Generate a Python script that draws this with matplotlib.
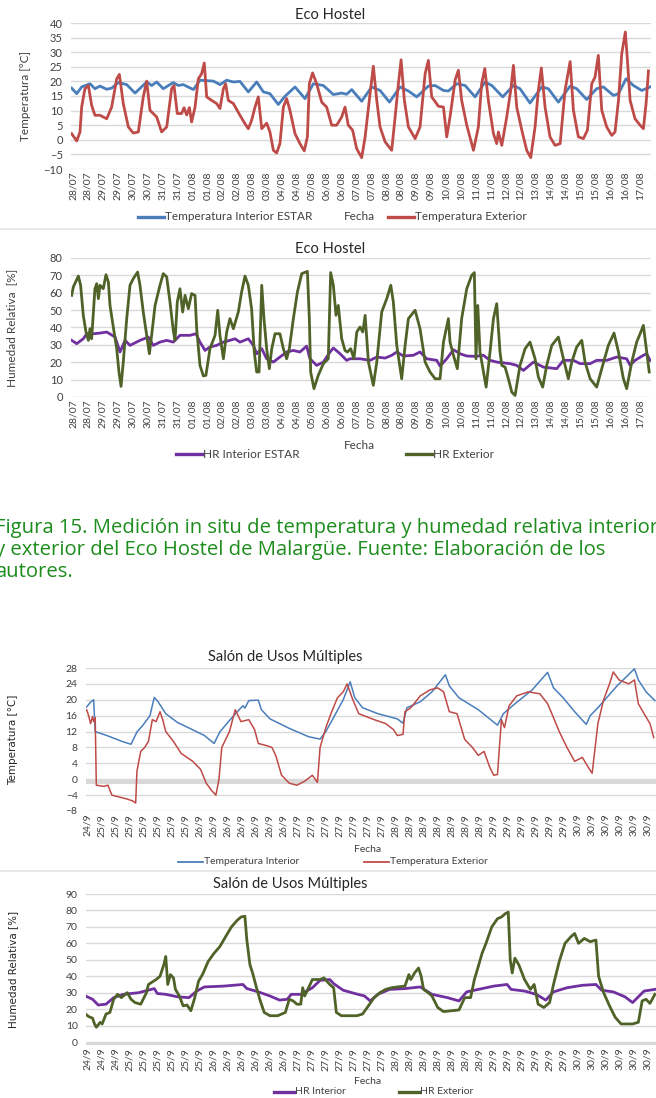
import numpy as np
import matplotlib
matplotlib.use("Agg")
import matplotlib.pyplot as plt
from matplotlib.lines import Line2D

plt.rcParams['font.family'] = ['Lato', 'DejaVu Sans']

# ---------------- data (x in tick-label units) ----------------
eco_labels = ['28/07', '28/07', '29/07', '29/07', '30/07', '30/07', '31/07', '31/07', '01/08', '01/08',
              '02/08', '02/08', '03/08', '03/08', '04/08', '04/08', '05/08', '06/08', '06/08', '07/08',
              '07/08', '08/08', '08/08', '09/08', '09/08', '10/08', '10/08', '11/08', '11/08', '12/08',
              '12/08', '13/08', '14/08', '14/08', '15/08', '15/08', '16/08', '16/08', '17/08']

# Eco Hostel - temperatura exterior
eco_text_t = [-0.09, 0.25, 0.47, 0.58, 0.80, 1.03, 1.25, 1.47, 1.81, 2.26, 2.59, 2.93, 3.11, 3.37, 3.71,
              4.04, 4.38, 4.71, 4.94, 5.16, 5.61, 5.94, 6.28, 6.61, 6.77, 6.99, 7.28, 7.44, 7.62, 7.80,
              7.95, 8.18, 8.40, 8.62, 8.80, 8.96, 9.29, 9.63, 9.85, 10.08, 10.23, 10.41, 10.75, 11.19,
              11.53, 11.75, 11.97, 12.20, 12.42, 12.65, 12.98, 13.20, 13.43, 13.65, 13.87, 14.10, 14.32,
              14.54, 14.88, 15.21, 15.50, 15.71, 15.84, 16.06, 16.33, 16.67, 17.00, 17.34, 17.67, 18.01,
              18.23, 18.45, 18.74, 19.01, 19.35, 19.58, 19.91, 20.13, 20.36, 20.58, 20.92, 21.36, 21.59,
              21.81, 21.99, 22.21, 22.48, 22.93, 23.26, 23.60, 23.82, 24.04, 24.49, 24.83, 25.05, 25.27,
              25.61, 25.83, 26.05, 26.39, 26.84, 27.17, 27.39, 27.60, 27.84, 28.18, 28.40, 28.51, 28.74,
              29.07, 29.34, 29.52, 29.74, 30.08, 30.41, 30.68, 30.97, 31.19, 31.39, 31.64, 31.97, 32.31,
              32.65, 32.98, 33.32, 33.54, 33.87, 34.21, 34.48, 34.77, 34.99, 35.21, 35.44, 35.77, 36.11,
              36.33, 36.56, 36.78, 37.02, 37.16, 37.34, 37.67, 38.01, 38.23, 38.41, 38.57]
eco_text = [2.1, -0.4, 2.7, 11.2, 17.5, 18.6, 11.8, 8.4, 8.4, 7.2, 11.2, 20.9, 22.4, 12.4, 4.4,
            2.3, 2.7, 14.7, 20.1, 10.1, 7.8, 2.7, 4.4, 17.5, 18.6, 9.0, 9.0, 11.0, 8.5, 11.0,
            6.1, 11.2, 20.9, 22.6, 26.3, 14.7, 13.5, 12.4, 10.7, 17.5, 19.2, 13.5, 12.4, 8.4,
            5.5, 3.8, 6.6, 11.2, 14.7, 3.8, 5.7, 2.7, -3.6, -4.5, -1.3, 11.2, 14.1,
            10.1, 2.1, -1.3, -3.8, 1.0, 19.2, 22.9, 19.2, 12.9, 11.2, 5.0, 5.0, 7.8,
            11.2, 5.0, 3.3, -3.0, -6.1, 1.0, 15.8, 25.2, 13.5, 4.4, -0.7, -3.6, 7.8,
            19.2, 27.4, 13.5, 4.4, 0.4, 4.4, 22.6, 27.2, 14.7, 11.5, 11.2, 1.0, 7.8,
            20.4, 23.8, 13.5, 5.0, -3.6, 4.4, 19.2, 24.4, 13.5, 2.1, -1.3, 2.7, -1.9,
            7.8, 17.0, 25.5, 11.2, 3.3, -3.6, -6.1, 4.4, 17.0, 24.6, 11.2, 1.0, -1.9,
            -1.3, 17.0, 26.8, 10.1, 1.0, 0.4, 3.3, 19.2, 21.5, 28.9, 10.1, 4.4, 1.5,
            2.7, 13.5, 29.5, 36.9, 27.2, 13.5, 7.2, 5.0, 3.8, 12.4, 23.6]

# Eco Hostel - temperatura interior ESTAR
eco_tint_t = [-0.09, 0.25, 0.58, 1.14, 1.47, 1.81, 2.26, 2.59, 3.04, 3.60, 4.16, 4.94, 5.27, 5.61, 6.05,
              6.72, 7.06, 7.39, 8.07, 8.51, 9.41, 9.85, 10.30, 10.75, 11.19, 11.75, 12.31, 12.76, 13.20,
              13.76, 14.21, 14.88, 15.55, 16.11, 16.78, 17.45, 18.01, 18.34, 18.68, 19.35, 20.02, 20.58,
              21.21, 21.92, 22.48, 23.04, 23.82, 24.27, 24.83, 25.16, 25.72, 26.28, 26.95, 27.62, 28.07,
              28.80, 29.52, 29.96, 30.63, 31.42, 31.86, 32.53, 33.32, 33.76, 34.43, 35.10, 35.55, 36.22,
              36.56, 37.07, 37.56, 38.12, 38.68]
eco_tint = [17.7, 15.8, 18.1, 19.2, 17.5, 18.4, 17.3, 17.7, 19.6, 18.9, 16.0, 19.8, 18.6, 19.8, 17.5,
            19.6, 18.6, 18.9, 17.2, 20.4, 20.1, 18.9, 20.4, 19.8, 20.0, 16.4, 19.8, 16.4, 15.8,
            12.1, 14.9, 18.1, 14.1, 19.2, 18.6, 15.5, 16.0, 15.6, 17.2, 13.2, 18.1, 16.9,
            12.9, 18.1, 16.7, 14.7, 18.4, 18.6, 16.9, 16.7, 19.2, 18.6, 14.7, 19.8, 18.6,
            14.7, 18.6, 17.5, 12.6, 18.1, 17.5, 12.9, 18.4, 17.5, 13.8, 17.5, 18.1, 15.2,
            15.8, 20.9, 18.6, 16.9, 18.1]

# Eco Hostel - HR exterior
eco_hext_t = [-0.09, 0.02, 0.36, 0.51, 0.69, 0.87, 1.03, 1.14, 1.25, 1.47, 1.59, 1.70, 1.81, 2.03, 2.21,
              2.37, 2.48, 2.70, 2.93, 3.08, 3.22, 3.37, 3.60, 3.82, 4.04, 4.33, 4.49, 4.71, 4.94, 5.12,
              5.27, 5.50, 5.83, 6.05, 6.28, 6.50, 6.72, 6.84, 6.99, 7.17, 7.35, 7.51, 7.73, 7.95, 8.18,
              8.29, 8.51, 8.74, 8.91, 9.18, 9.52, 9.70, 9.85, 10.08, 10.30, 10.52, 10.75, 11.08, 11.30,
              11.53, 11.75, 11.97, 12.15, 12.31, 12.47, 12.65, 12.80, 12.98, 13.16, 13.32, 13.54, 13.87,
              14.10, 14.32, 14.50, 14.77, 15.04, 15.33, 15.71, 15.84, 15.93, 16.15, 16.44, 16.78, 17.11,
              17.27, 17.45, 17.63, 17.78, 18.01, 18.23, 18.39, 18.61, 18.83, 19.02, 19.24, 19.42, 19.58,
              19.80, 20.13, 20.36, 20.69, 21.03, 21.30, 21.47, 21.70, 22.03, 22.26, 22.48, 22.93, 23.26,
              23.60, 23.93, 24.27, 24.60, 24.83, 25.16, 25.27, 25.50, 25.76, 26.05, 26.39, 26.72, 26.90,
              27.01, 27.13, 27.28, 27.51, 27.69, 27.95, 28.18, 28.40, 28.62, 28.74, 28.96, 29.18, 29.41,
              29.63, 29.96, 30.30, 30.63, 30.97, 31.19, 31.48, 31.75, 32.09, 32.53, 32.87, 33.20, 33.43,
              33.76, 34.10, 34.32, 34.66, 35.10, 35.44, 35.88, 36.26, 36.56, 36.89, 37.11, 37.45, 37.78,
              38.01, 38.23, 38.45, 38.62]
eco_hext = [58.5, 63.3, 69.6, 64.3, 47.0, 37.4, 32.6, 39.3, 33.5, 62.3, 65.2, 56.6, 64.3, 62.3, 70.4,
            66.2, 52.7, 40.3, 27.8, 14.4, 6.1, 20.1, 45.1, 64.3, 68.1, 71.9, 64.3, 48.9, 35.5, 24.9,
            35.5, 52.7, 64.3, 71.0, 69.1, 54.7, 38.3, 32.6, 54.7, 62.3, 48.9, 58.5, 50.8, 59.5, 58.5,
            39.3, 18.2, 12.1, 12.5, 27.8, 35.5, 49.9, 35.5, 22.0, 37.4, 45.1, 39.3, 48.9, 60.4,
            69.6, 64.3, 50.8, 25.9, 14.4, 14.4, 64.3, 45.1, 27.8, 16.3, 27.8, 36.4, 36.4,
            27.8, 22.0, 27.8, 45.1, 60.4, 71.0, 72.3, 45.1, 14.4, 4.8, 12.5, 19.2, 22.0,
            71.6, 64.3, 47.0, 52.7, 33.5, 26.8, 25.9, 27.8, 22.0, 37.4, 40.3, 37.4, 47.0,
            20.1, 6.7, 20.1, 48.9, 56.6, 64.3, 54.7, 29.7, 10.5, 29.7, 45.1, 49.9, 39.3,
            20.1, 14.4, 10.5, 10.5, 31.6, 45.1, 31.6, 24.0, 16.3, 45.1, 62.3, 70.0, 71.6,
            22.0, 52.7, 25.9, 14.4, 5.7, 25.9, 45.1, 53.7, 25.9, 18.2, 17.2, 10.5, 2.8,
            0.9, 18.2, 27.8, 31.6, 22.0, 11.5, 5.7, 18.2, 29.7, 34.5, 22.0, 10.5, 20.1,
            28.8, 32.6, 20.1, 10.5, 5.7, 16.3, 29.7, 36.8, 25.9, 10.5, 4.8, 20.1, 31.6,
            36.4, 41.2, 25.9, 14.4]

# Eco Hostel - HR interior ESTAR
eco_hint_t = [-0.09, 0.25, 0.69, 0.92, 1.36, 1.81, 2.26, 2.82, 3.15, 3.49, 3.82, 4.49, 5.05, 5.38, 5.83,
              6.28, 6.72, 7.17, 7.84, 8.24, 8.51, 8.85, 9.18, 9.63, 10.08, 10.52, 10.86, 11.19, 11.75,
              12.09, 12.31, 12.65, 12.98, 13.43, 13.87, 14.32, 14.77, 15.21, 15.66, 15.88, 16.33, 16.78,
              17.23, 17.45, 17.90, 18.34, 18.57, 19.24, 19.91, 20.36, 20.92, 21.36, 21.70, 22.14, 22.81,
              23.26, 23.71, 24.38, 24.60, 25.05, 25.50, 25.94, 26.39, 26.95, 27.51, 27.95, 28.40, 29.29,
              29.74, 30.19, 30.86, 31.53, 32.42, 32.87, 33.54, 33.99, 34.66, 35.10, 35.77, 36.44, 37.11,
              37.34, 37.67, 38.23, 38.45, 38.68]
eco_hint = [32.6, 30.7, 33.5, 36.4, 36.4, 36.8, 37.4, 34.5, 25.9, 32.6, 29.7, 32.6, 34.5, 29.7, 31.6,
            32.6, 31.6, 35.5, 35.5, 36.4, 31.6, 26.8, 28.8, 29.7, 31.6, 32.6, 33.5, 31.6, 33.5,
            29.7, 24.9, 27.8, 22.0, 20.1, 23.0, 25.9, 26.8, 25.9, 29.3, 22.0, 18.2, 20.1,
            25.9, 28.2, 24.9, 21.1, 22.0, 22.0, 21.1, 23.0, 22.4, 24.0, 25.9, 23.6, 24.0,
            25.9, 22.0, 21.1, 17.8, 22.0, 27.2, 24.9, 23.6, 23.4, 24.0, 21.1, 20.1, 19.2,
            18.2, 15.3, 20.1, 17.2, 16.3, 21.1, 21.1, 19.2, 19.2, 21.1, 21.1, 23.0, 22.0,
            18.2, 21.1, 24.0, 24.9, 21.1]

salon_t_labels = ['24/9', '25/9', '25/9', '25/9', '25/9', '25/9', '25/9', '25/9', '26/9', '26/9', '26/9',
                  '26/9', '26/9', '26/9', '26/9', '27/9', '27/9', '27/9', '27/9', '27/9', '27/9', '27/9',
                  '28/9', '28/9', '28/9', '28/9', '28/9', '28/9', '28/9', '29/9', '29/9', '29/9', '29/9',
                  '29/9', '29/9', '30/9', '30/9', '30/9', '30/9', '30/9', '30/9']
salon_h_labels = ['24/9', '24/9', '24/9', '25/9', '25/9', '25/9', '25/9', '25/9', '25/9', '26/9', '26/9',
                  '26/9', '26/9', '26/9', '26/9', '27/9', '27/9', '27/9', '27/9', '27/9', '27/9', '27/9',
                  '28/9', '28/9', '28/9', '28/9', '28/9', '28/9', '28/9', '29/9', '29/9', '29/9', '29/9',
                  '29/9', '29/9', '30/9', '30/9', '30/9', '30/9', '30/9', '30/9']

# Salon - temperatura interior
sal_tint_t = [-0.06, 0.22, 0.44, 0.55, 1.46, 2.56, 3.11, 3.53, 3.94, 4.46, 4.77, 5.04, 5.59, 6.42, 7.25,
              8.35, 9.04, 9.45, 10.14, 10.83, 11.10, 11.24, 11.52, 12.20, 12.42, 13.03, 14.41, 15.79,
              16.61, 17.02, 17.57, 18.26, 18.76, 19.09, 19.64, 20.74, 22.12, 22.53, 22.81, 23.77, 24.60,
              25.56, 25.84, 26.53, 27.91, 29.28, 29.70, 30.39, 31.76, 32.86, 33.28, 33.97, 34.79, 35.62,
              35.90, 36.45, 37.82, 39.06, 39.34, 39.89, 40.52]
sal_tint = [18.2, 19.4, 20.0, 12.0, 10.9, 9.4, 8.8, 11.9, 13.5, 16.0, 20.6, 19.5, 16.5, 14.3, 12.9,
            11.0, 9.0, 11.9, 14.8, 17.5, 18.5, 17.9, 19.8, 19.9, 17.5, 15.2, 12.8, 10.7,
            10.1, 12.0, 15.5, 20.0, 24.5, 20.5, 18.0, 16.5, 15.2, 14.1, 18.0, 19.5, 22.0,
            26.3, 23.5, 20.5, 17.5, 13.6, 16.5, 18.6, 22.5, 26.9, 23.0, 20.5, 17.0, 13.8,
            16.0, 18.0, 23.5, 27.8, 25.0, 22.0, 19.8]

# Salon - temperatura exterior
sal_text_t = [-0.06, 0.08, 0.22, 0.36, 0.44, 0.55, 0.63, 1.18, 1.46, 1.74, 2.29, 2.84, 3.25, 3.44, 3.53,
              3.80, 4.08, 4.35, 4.63, 4.90, 5.18, 5.37, 5.59, 6.14, 6.69, 7.52, 8.07, 8.48, 8.90, 9.17,
              9.39, 9.59, 10.14, 10.55, 10.96, 11.52, 11.93, 12.20, 12.75, 13.17, 13.44, 13.86, 14.41,
              14.96, 15.51, 16.06, 16.42, 16.61, 17.02, 17.44, 17.85, 18.26, 18.54, 18.95, 19.37, 20.47,
              21.30, 21.85, 22.12, 22.53, 22.67, 23.09, 23.77, 24.46, 25.01, 25.43, 25.84, 26.39, 26.94,
              27.49, 27.91, 28.32, 28.73, 29.01, 29.28, 29.56, 29.78, 30.11, 30.66, 31.49, 32.31, 32.86,
              33.28, 33.69, 34.24, 34.79, 35.34, 35.76, 36.04, 36.45, 36.86, 37.28, 37.55, 37.96, 38.65,
              39.06, 39.34, 39.75, 40.17, 40.44]
sal_text = [17.5, 16.0, 14.0, 15.8, 14.5, 15.5, -1.5, -1.8, -1.5, -4.0, -4.5, -5.0, -5.5, -6.0, 2.0,
            7.0, 8.0, 9.5, 15.0, 14.5, 17.0, 15.0, 12.0, 9.5, 6.5, 4.5, 2.5, -1.0, -3.0, -4.0,
            0.0, 8.0, 12.0, 17.5, 14.5, 15.0, 12.5, 9.0, 8.5, 8.0, 6.0, 1.0, -1.0,
            -1.5, -0.5, 1.0, -0.8, 8.0, 13.0, 17.0, 20.5, 22.0, 24.0, 20.0, 16.5, 15.0,
            14.0, 12.5, 11.0, 11.3, 17.0, 18.0, 21.0, 22.5, 23.0, 22.0, 17.0, 16.5, 10.0,
            8.0, 6.0, 7.0, 3.0, 1.0, 1.2, 15.0, 13.0, 18.5, 21.0, 22.0, 21.5, 19.0,
            15.5, 12.0, 8.0, 4.5, 5.5, 3.0, 1.5, 14.0, 20.0, 24.0, 27.0, 25.0, 24.0,
            25.0, 19.0, 16.5, 14.0, 10.5]

# Salon - HR exterior
sal_hext_t = [-0.14, 0.08, 0.36, 0.50, 0.63, 0.91, 1.05, 1.32, 1.60, 1.87, 2.15, 2.42, 2.84, 3.11, 3.39,
              3.80, 4.21, 4.35, 4.63, 4.90, 5.18, 5.45, 5.59, 5.73, 5.92, 6.14, 6.28, 6.56, 6.83, 7.11,
              7.38, 7.66, 7.93, 8.21, 8.62, 9.04, 9.45, 9.86, 10.28, 10.69, 10.96, 11.24, 11.38, 11.60,
              11.79, 12.07, 12.34, 12.62, 13.03, 13.58, 14.13, 14.41, 14.68, 14.96, 15.23, 15.37, 15.51,
              15.79, 16.06, 16.61, 16.89, 17.30, 17.58, 17.77, 18.13, 18.68, 19.23, 19.64, 20.06, 20.47,
              20.88, 21.29, 21.71, 22.12, 22.67, 22.95, 23.09, 23.36, 23.64, 23.83, 24.00, 24.33, 24.60,
              25.01, 25.43, 25.98, 26.53, 26.94, 27.36, 27.63, 27.91, 28.18, 28.46, 28.87, 29.28, 29.56,
              29.83, 30.05, 30.19, 30.33, 30.52, 30.80, 31.21, 31.63, 31.90, 32.18, 32.59, 33.00, 33.28,
              33.69, 34.10, 34.52, 34.79, 35.07, 35.48, 35.90, 36.31, 36.50, 36.86, 37.28, 37.69, 38.11,
              38.93, 39.34, 39.61, 39.89, 40.17, 40.52]
sal_hext = [17.0, 15.5, 14.5, 11.0, 9.0, 12.0, 11.0, 17.0, 18.0, 26.0, 29.0, 27.0, 30.0, 26.0, 24.0,
            23.0, 30.0, 35.0, 36.5, 38.0, 40.0, 47.0, 52.0, 35.0, 41.0, 39.0, 32.0, 28.0, 22.0, 22.5,
            19.0, 27.0, 37.0, 41.0, 49.0, 54.0, 58.0, 64.0, 70.0, 74.0, 76.0, 76.5, 62.0, 47.0,
            42.0, 33.0, 25.0, 18.0, 16.0, 16.0, 18.0, 26.0, 25.0, 23.0, 23.0, 33.0, 28.0,
            33.0, 38.0, 38.0, 39.0, 35.0, 33.0, 18.0, 16.0, 16.0, 16.0, 17.0, 22.0, 27.0,
            30.0, 32.0, 33.0, 33.5, 34.0, 41.0, 38.0, 42.0, 45.0, 40.0, 32.0, 30.0, 28.0,
            21.0, 18.5, 19.0, 19.5, 27.0, 27.0, 38.0, 46.0, 54.0, 60.0, 70.0, 75.0, 76.0,
            78.0, 79.0, 50.0, 42.0, 51.0, 47.0, 38.0, 32.0, 35.0, 23.0, 21.0, 24.0, 35.0,
            49.0, 60.0, 64.0, 66.0, 60.0, 63.0, 61.0, 62.0, 40.0, 30.0, 22.0, 15.0, 11.0,
            11.0, 12.0, 25.0, 26.0, 23.5, 29.0]

# Salon - HR interior
sal_hint_t = [-0.14, 0.36, 0.77, 1.32, 1.87, 2.56, 3.66, 4.77, 4.99, 5.59, 6.42, 7.25, 7.80, 8.35, 9.72,
              11.10, 11.38, 12.20, 13.03, 13.72, 14.27, 14.55, 15.23, 16.06, 16.61, 17.30, 17.58, 18.26,
              19.09, 19.78, 20.19, 20.74, 21.57, 22.67, 23.77, 24.60, 25.70, 26.53, 27.08, 27.91, 29.01,
              29.97, 30.25, 31.21, 32.04, 32.73, 33.28, 34.24, 35.34, 36.31, 36.72, 37.55, 38.38, 38.93,
              39.34, 39.75, 40.52]
sal_hint = [28.0, 26.0, 22.5, 23.0, 27.0, 29.0, 30.0, 32.5, 29.5, 29.0, 27.5, 27.0, 31.0, 33.5, 34.0,
            35.0, 32.5, 30.5, 28.0, 25.5, 26.0, 29.0, 29.0, 33.0, 37.5, 38.0, 35.5, 31.5,
            29.5, 28.0, 25.0, 29.0, 32.0, 32.5, 33.5, 29.0, 27.0, 25.0, 30.5, 32.0, 34.0,
            35.0, 32.0, 31.0, 29.0, 25.5, 30.5, 33.0, 34.5, 35.0, 31.5, 30.5, 27.5, 24.0,
            27.5, 31.0, 32.0]

# ---------------- figure ----------------
W, H = 656, 1098
fig = plt.figure(figsize=(W / 100, H / 100), dpi=100)

GRID = '#d9d9d9'
TXT = '#404040'
BLUE = '#4a7ebb'
RED = '#be4b48'
PURPLE = '#7030a0'
GREEN = '#4f6228'


def px_axes(left, top, right, bottom):
    return fig.add_axes([left / W, 1 - bottom / H, (right - left) / W, (bottom - top) / H])


def style(ax, labels, xlim, ylim, yticks, fs_x=7.5, fs_y=8):
    ax.set_xlim(*xlim)
    ax.set_ylim(*ylim)
    ax.set_yticks(yticks)
    ax.set_xticks(range(len(labels)))
    ax.set_xticklabels(labels, rotation=90, fontsize=fs_x, color=TXT)
    ax.tick_params(length=0, pad=2)
    ax.tick_params(axis='y', labelsize=fs_y, labelcolor=TXT, pad=6)
    for s in ax.spines.values():
        s.set_visible(False)
    for v in yticks:
        ax.axhline(v, color=GRID, lw=1.0, zorder=0)


def legend_item(x0, y, color, text, lw, seg=26, fs=8.5):
    fig.add_artist(Line2D([x0 / W, (x0 + seg) / W], [1 - y / H, 1 - y / H], color=color, lw=lw))
    fig.text((x0 + seg + 1) / W, 1 - y / H, text, ha='left', va='center', fontsize=fs, color=TXT)


def ftext(x, y, s, **kw):
    fig.text(x / W, 1 - y / H, s, **kw)


# panel 1
ax1 = px_axes(71, 23, 651, 169)
style(ax1, eco_labels, (-0.134, 38.74), (-10, 40), np.arange(-10, 41, 5))
ax1.plot(eco_tint_t, eco_tint, color=BLUE, lw=2.0)
ax1.plot(eco_text_t, eco_text, color=RED, lw=2.0)
ax1.set_ylabel('Temperatura [°C]', fontsize=8.5, color=TXT)
ax1.yaxis.set_label_coords((31 - 71) / 580, 0.5)
ftext(330, 15, 'Eco Hostel', ha='center', va='center', fontsize=10.5, color='#262626')
legend_item(138, 217, BLUE, 'Temperatura Interior ESTAR', 2.4)
ftext(359, 217, 'Fecha', ha='center', va='center', fontsize=8.5, color=TXT)
legend_item(388, 217, RED, 'Temperatura Exterior', 2.4)

# panel 2
ax2 = px_axes(71, 258, 651, 397)
style(ax2, eco_labels, (-0.134, 38.74), (0, 80), np.arange(0, 81, 10))
ax2.plot(eco_hint_t, eco_hint, color=PURPLE, lw=2.0)
ax2.plot(eco_hext_t, eco_hext, color=GREEN, lw=2.0)
ax2.set_ylabel('Humedad Relativa  [%]', fontsize=8.5, color=TXT)
ax2.yaxis.set_label_coords((17 - 71) / 580, 0.5)
ftext(330, 249, 'Eco Hostel', ha='center', va='center', fontsize=10.5, color='#262626')
ftext(359, 446, 'Fecha', ha='center', va='center', fontsize=8.5, color=TXT)
legend_item(176, 454, PURPLE, 'HR Interior ESTAR', 2.4)
legend_item(406, 454, GREEN, 'HR Exterior', 2.4)

# separators
for yy in (229, 871):
    fig.add_artist(Line2D([0, 1], [1 - yy / H] * 2, color='#e3e3e3', lw=1.2))

# caption (cut at both edges, as in the reference page crop)
caption = ['Figura 15. Medición in situ de temperatura y humedad relativa interior',
           'y exterior del Eco Hostel de Malargüe. Fuente: Elaboración de los',
           'autores.']
for i, line in enumerate(caption):
    ftext(-5, 528 + 22 * i, line, ha='left', va='center', fontsize=14.6, color='#1c8c1c',
          family=['Open Sans', 'DejaVu Sans'])

# panel 3
ax3 = px_axes(86, 668, 656, 811)
style(ax3, salon_t_labels, (-0.107, 40.6), (-8, 28), np.arange(-8, 29, 4), fs_x=7.5, fs_y=7.5)
ax3.axhspan(-1.25, 0, color=GRID, lw=0, zorder=0.5)
ax3.plot(sal_tint_t, sal_tint, color=BLUE, lw=1.1)
ax3.plot(sal_text_t, sal_text, color=RED, lw=1.1)
ax3.set_ylabel('Temperatura [°C]', fontsize=7.5, color='#262626', family=['DejaVu Sans'])
ax3.yaxis.set_label_coords((18 - 86) / 570, 0.5)
ftext(285, 657, 'Salón de Usos Múltiples', ha='center', va='center', fontsize=10.5, color='#262626')
ftext(368, 850, 'Fecha', ha='center', va='center', fontsize=7.5, color=TXT)
legend_item(178, 862, BLUE, 'Temperatura Interior', 1.3, seg=25, fs=7.5)
legend_item(364, 862, RED, 'Temperatura Exterior', 1.3, seg=25, fs=7.5)

# panel 4
ax4 = px_axes(86, 894, 656, 1045)
style(ax4, salon_h_labels, (-0.107, 40.6), (-1.8, 90), np.arange(0, 91, 10), fs_x=7.5, fs_y=7.5)
ax4.axhspan(-1.8, 0, color=GRID, lw=0, zorder=0.5)
ax4.plot(sal_hint_t, sal_hint, color=PURPLE, lw=2.0)
ax4.plot(sal_hext_t, sal_hext, color=GREEN, lw=2.0)
ax4.set_ylabel('Humedad Relativa [%]', fontsize=7.5, color='#262626', family=['DejaVu Sans'])
ax4.yaxis.set_label_coords((18 - 86) / 570, 0.5)
ftext(290, 884, 'Salón de Usos Múltiples', ha='center', va='center', fontsize=10.5, color='#262626')
ftext(368, 1081, 'Fecha', ha='center', va='center', fontsize=7.5, color=TXT)
legend_item(274, 1092, PURPLE, 'HR Interior', 2.4, seg=20, fs=7.5)
legend_item(399, 1092, GREEN, 'HR Exterior', 2.4, seg=20, fs=7.5)

fig.savefig('out.png', dpi=100)
